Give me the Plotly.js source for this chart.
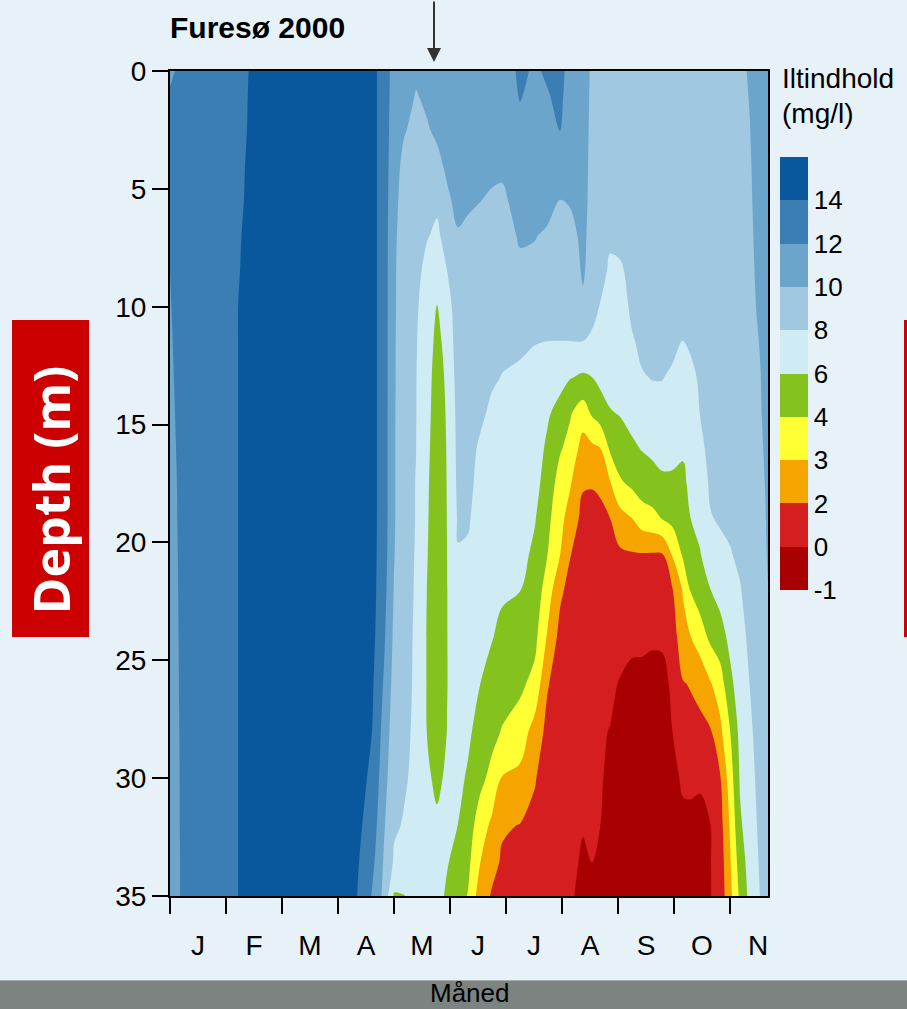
<!DOCTYPE html>
<html>
<head>
<meta charset="utf-8">
<script src="https://cdn.plot.ly/plotly-3.0.1.min.js"></script>
<style>
html,body{margin:0;padding:0;background:#e7f1f8;}
#chart{width:907px;height:1009px;}
</style>
</head>
<body>
<div id="chart"></div>
<script>
// ---------- data ----------
const monthLabels = ['J','F','M','A','M','J','J','A','S','O','N'];
const monthTicks = [0,1,2,3,4,5,6,7,8,9,10];
const depthTicks = [0,5,10,15,20,25,30,35];
const depths = [0,1,2.5,4,5.5,7,8.5,10,11.5,13,14.5,16,17.5,19,20.5,22,24,26,28,30,32,33.5,35];
// sampling times, in months since 1 January 2000
const sampleMonths = [0.000,0.536,1.250,1.786,3.214,3.607,3.821,4.000,4.179,4.393,4.589,4.768,4.946,5.143,5.321,5.536,5.750,5.929,6.250,6.518,6.732,6.964,7.143,7.375,7.536,7.679,7.857,8.036,8.250,8.429,8.607,8.786,8.964,9.161,9.286,9.464,9.643,9.821,10.000,10.179,10.357,10.536,10.679];
// oxygen profiles (mg/l), one per sampling time, values at the depths above
const oxygenProfiles = [
 [11.8,12.1,12.3,12.3,12.3,12.2,12.0,11.95,11.9,11.85,11.8,11.75,11.7,11.68,11.65,11.63,11.6,11.58,11.55,11.53,11.52,11.5,11.5],
 [13,13,13,13,13,13,13,13,13,13,13,13,13,13,13,13,13,13,13,13,13,13,13],
 [13.6,13.65,13.7,13.8,13.85,13.95,14.0,14.05,14.05,14.05,14.05,14.05,14.05,14.05,14.05,14.05,14.05,14.05,14.05,14.05,14.05,14.05,14.05],
 [15,15,15,15,15,15,15,15,15,15,15,15,15,15,15,15,15,15,15,15,15,15,15],
 [15,15,15,15,15,15,15,15,15,15,15,15,15,15,15,15,15,15,15,15,15,15,15],
 [14.7,14.7,14.7,14.7,14.7,14.7,14.7,14.7,14.7,14.7,14.7,14.7,14.7,14.7,14.7,14.7,14.6,14.3,14.0,13.7,13.2,12.6,11.9],
 [13,13,13,13,13,13,13,13,13,13,13,13,13,13,12.9,12.7,12.3,11.8,11.3,10.8,10.2,9.8,9.5],
 [11.3,11.2,11.0,10.8,10.6,10.4,10.3,10.3,10.25,10.25,10.2,10.2,10.2,10.2,10.1,9.9,9.6,9.3,8.9,8.5,8.2,7.8,5.8],
 [10.9,10.5,10.15,9.5,9.2,9.0,8.9,8.8,8.75,8.7,8.7,8.65,8.65,8.6,8.6,8.6,8.5,8.4,8.3,8.15,7.9,7.4,5.95],
 [10.2,9.95,9.5,9.2,9.0,8.8,8.5,8.2,8.1,8.05,8.05,8.02,7.95,7.95,7.9,7.85,7.8,7.8,7.75,7.7,7.5,7.0,6.4],
 [10.5,10.2,9.9,9.6,9.3,8.1,7.5,7.3,7.1,6.9,6.7,6.5,6.3,6.2,6.1,5.98,5.9,5.9,5.95,6.4,6.8,6.9,6.9],
 [10.8,10.5,10.2,9.7,8.3,7.7,6.9,5.95,5.4,5.0,4.9,4.8,4.8,4.8,4.8,4.8,4.8,4.85,4.9,5.5,6.4,6.8,6.9],
 [11.0,10.8,10.5,10.2,9.8,8.6,7.98,7.0,6.7,6.4,6.2,6.1,6.05,6.02,5.98,5.95,5.95,5.95,6.02,6.4,6.6,6.2,5.6],
 [11.0,10.9,10.7,10.5,10.3,9.9,9.6,9.3,9.0,8.8,8.6,8.5,8.4,8.2,7.9,7.6,7.3,7.0,6.7,6.4,5.98,5.2,4.7],
 [11.0,10.9,10.8,10.5,10.2,9.7,9.5,9.3,9.1,8.9,8.7,8.5,8.35,8.15,7.8,7.5,7.2,6.8,6.3,5.8,5.0,4.5,3.95],
 [11.1,11.0,10.8,10.5,10.02,9.7,9.5,9.2,9.0,8.7,8.3,7.8,7.6,7.4,7.2,7.0,6.6,6.02,5.4,4.55,3.5,3.05,2.5],
 [11.2,11.1,10.8,10.35,9.8,9.5,9.2,8.9,8.6,8.2,7.7,7.4,7.2,7.0,6.8,6.6,6.1,5.2,4.6,3.7,2.8,2.3,1.8],
 [11.1,11.1,10.9,10.3,9.7,9.4,9.1,8.7,8.35,7.95,7.6,7.35,7.15,6.95,6.7,6.3,5.5,4.8,3.95,2.95,2.1,1.8,1.6],
 [12.3,12.1,11.6,11.1,10.6,10.15,9.7,9.0,8.4,7.6,7.35,7.15,6.95,6.8,6.6,6.05,5.0,4.4,3.55,2.75,1.95,1.5,1.3],
 [11.8,11.6,11.3,11.0,10.7,10.05,9.7,8.9,8.05,7.5,7.2,6.9,6.6,6.1,5.6,5.1,4.5,3.7,2.6,2.05,1.6,1.4,1.2],
 [12.2,11.9,11.6,11.0,10.5,9.8,9.4,8.8,7.98,7.2,6.3,5.7,5.2,4.6,4.1,3.6,2.95,2.1,1.5,1.2,1.0,0.9,0.8],
 [12.5,12.35,12.02,11.4,9.95,9.5,9.0,8.5,7.98,6.7,5.3,4.2,3.6,3.3,3.03,2.2,1.4,1.0,0.8,0.6,0.5,0.4,0.35],
 [11.4,11.3,11.1,10.8,10.1,9.6,9.1,8.6,7.98,6.1,4.2,3.7,3.1,2.6,2.05,1.4,0.9,0.6,0.4,0.3,0.2,0.2,0.2],
 [10.6,10.55,10.5,10.45,10.4,10.3,10.2,9.7,7.95,5.7,3.5,2.6,2.1,1.4,1.0,0.7,0.5,0.3,0.2,0.1,0.05,-0.05,-0.2],
 [9.8,9.75,9.7,9.65,9.6,9.5,9.3,8.7,7.6,5.98,4.3,2.8,2.05,1.5,1.1,0.8,0.55,0.35,0.2,0.1,0.1,0.02,-0.1],
 [9.7,9.6,9.5,9.4,9.3,9.2,8.9,7.9,7.3,6.5,5.0,2.98,2.2,1.4,1.0,0.7,0.5,0.3,0.15,0.05,0.02,-0.1,-0.2],
 [9.6,9.55,9.5,9.4,9.2,8.4,7.6,7.3,7.0,6.6,5.9,4.3,2.9,1.95,1.4,1.0,0.6,0.3,-0.02,-0.05,-0.3,-0.4,-0.5],
 [9.6,9.55,9.5,9.4,9.2,8.6,7.7,7.3,7.1,6.8,6.1,5.2,3.85,2.6,1.7,1.2,0.6,-0.05,-0.4,-0.5,-0.55,-0.6,-0.6],
 [9.5,9.45,9.4,9.3,9.1,8.9,8.6,8.3,7.85,7.2,6.6,5.7,4.4,2.98,1.85,1.3,0.5,-0.3,-0.6,-0.7,-0.7,-0.7,-0.7],
 [9.5,9.45,9.4,9.3,9.2,9.0,8.8,8.6,8.3,7.9,7.2,6.1,5.0,3.5,1.9,1.4,0.6,-0.4,-0.7,-0.8,-0.8,-0.8,-0.8],
 [9.5,9.45,9.4,9.3,9.2,9.0,8.8,8.6,8.4,8.05,7.4,6.4,5.2,3.7,1.85,1.4,0.5,-0.6,-0.8,-0.85,-0.85,-0.85,-0.85],
 [9.5,9.45,9.4,9.3,9.2,9.0,8.8,8.6,8.4,8.05,7.5,6.7,5.6,4.02,1.9,1.4,0.5,-0.5,-0.6,-0.7,-0.7,-0.7,-0.7],
 [9.4,9.35,9.3,9.2,9.1,8.9,8.8,8.6,8.35,7.8,7.3,6.6,5.65,4.5,3.05,1.8,1.0,0.5,-0.02,-0.4,-0.5,-0.5,-0.5],
 [9.4,9.35,9.3,9.2,9.1,9.0,8.8,8.5,7.95,7.5,7.1,6.3,5.5,4.9,4.3,3.1,2.6,1.9,1.2,0.4,-0.3,-0.35,-0.4],
 [9.4,9.35,9.3,9.2,9.1,9.0,8.8,8.5,8.2,7.6,7.2,6.9,6.5,5.95,5.2,4.05,2.95,2.05,1.4,0.5,-0.3,-0.35,-0.4],
 [9.4,9.35,9.3,9.2,9.1,9.0,8.8,8.6,8.4,8.2,8.03,7.6,7.1,6.5,5.9,5.1,3.5,2.3,1.5,0.4,-0.4,-0.45,-0.5],
 [9.5,9.45,9.4,9.3,9.2,9.1,9.0,8.9,8.8,8.7,8.6,8.45,8.2,7.9,7.0,5.95,4.4,2.9,1.8,0.9,-0.03,-0.05,-0.05],
 [9.6,9.55,9.5,9.45,9.4,9.3,9.2,9.1,9.0,8.9,8.8,8.6,8.4,8.15,7.6,6.7,5.2,3.5,2.75,1.8,1.2,0.9,0.8],
 [9.7,9.65,9.6,9.55,9.5,9.4,9.3,9.2,9.1,9.0,8.9,8.7,8.5,8.3,7.9,7.2,6.5,5.5,3.98,3.5,3.1,2.9,2.7],
 [9.8,9.75,9.7,9.65,9.6,9.55,9.5,9.4,9.3,9.2,9.1,8.95,8.8,8.6,8.3,7.9,7.4,7.0,6.6,6.2,5.7,5.0,4.4],
 [10.1,10.05,9.98,9.9,9.85,9.8,9.75,9.7,9.6,9.5,9.4,9.3,9.2,9.05,8.9,8.7,8.4,8.05,7.7,7.4,7.1,6.9,6.6],
 [10.8,10.75,10.7,10.6,10.5,10.4,10.3,10.2,10.05,9.95,9.9,9.8,9.7,9.6,9.5,9.4,9.2,9.0,8.8,8.6,8.4,8.2,8.02],
 [11.0,10.95,10.9,10.85,10.8,10.7,10.65,10.6,10.5,10.45,10.4,10.3,10.2,10.15,10.1,9.98,9.8,9.6,9.4,9.3,9.2,9.1,9.0]
];
// class limits of the legend (mg/l) and their colours (low -> high)
const levelValues = [-1,0,2,3,4,6,8,10,12,14,16];
const binColors = ['#a80000','#d41e20','#f5a400','#ffff33','#84c31e','#cfecf4','#a0c8e0','#6ca5cb','#3a7eb4','#09589d'];

// ---------- helpers ----------
const FONT = 'Liberation Sans, Arial, Helvetica, sans-serif';
// map mg/l onto the equal-width class index used by the legend
function classIndex(v){
  const L = levelValues;
  if (v <= L[0]) return v - L[0];
  for (let i = 0; i < L.length - 1; i++) {
    if (v <= L[i+1]) return i + (v - L[i]) / (L[i+1] - L[i]);
  }
  return L.length - 1 + (v - L[L.length-1]) / 2;
}
const zIndex = oxygenProfiles.map(p => p.map(classIndex));

// layout pixel helpers (plot area 170..768 x 71..896)
const PL = 170, PT = 71, PW = 598, PH = 825;
const px = p => (p - PL) / PW;
const py = p => (PT + PH - p) / PH;

const nb = binColors.length;
const contourScale = binColors.map((c, i) => [i / (nb - 1), c]);
const legendScale = [];
binColors.forEach((c, i) => { legendScale.push([i / nb, c]); legendScale.push([(i + 1) / nb, c]); });

const contour = {
  type: 'contour',
  x: sampleMonths,
  y: depths,
  z: zIndex,
  transpose: true,
  autocontour: false,
  contours: { start: 1, end: nb - 1, size: 1, coloring: 'fill', showlines: false },
  line: { width: 0 },
  colorscale: contourScale,
  showscale: false,
  hoverinfo: 'skip'
};

// legend bar (drawn from the same classes)
const legend = {
  type: 'heatmap',
  x: [-100], y: [-100], z: [[0]],
  xaxis: 'x2', yaxis: 'y',
  zmin: 0, zmax: nb,
  colorscale: legendScale,
  hoverinfo: 'skip',
  colorbar: {
    x: px(780), xref: 'paper', xanchor: 'left', xpad: 0,
    y: py(373.5), yanchor: 'middle', ypad: 0,
    len: 433, lenmode: 'pixels',
    thickness: 28, thicknessmode: 'pixels',
    outlinewidth: 0,
    tickvals: levelValues.slice(0, nb).map((v, i) => i),
    ticktext: levelValues.slice(0, nb).map(String),
    ticks: '',
    tickfont: { family: FONT, size: 26, color: '#000' }
  }
};

const layout = {
  width: 907, height: 1009,
  margin: { l: PL, r: 907 - PL - PW, t: PT, b: 1009 - PT - PH, pad: 0 },
  paper_bgcolor: '#e7f1f8',
  plot_bgcolor: '#e7f1f8',
  font: { family: FONT, size: 28, color: '#000' },
  showlegend: false,
  title: {
    text: '<b>Furesø 2000</b>',
    font: { family: FONT, size: 30, color: '#000' },
    xref: 'paper', x: 0, xanchor: 'left',
    yref: 'container', y: 1 - 27 / 1009, yanchor: 'middle'
  },
  xaxis: {
    range: [0, (768 - PL) / 56],
    tickvals: monthTicks, showticklabels: false,
    ticks: 'outside', ticklen: 16, tickwidth: 2, tickcolor: '#000',
    showline: true, linecolor: '#000', linewidth: 2, mirror: true,
    showgrid: false, zeroline: false
  },
  xaxis2: {
    overlaying: 'x', anchor: 'y', side: 'bottom',
    range: [0, (768 - PL) / 56],
    tickvals: monthTicks.map(m => m + 0.5), ticktext: monthLabels,
    ticks: '', showline: false, showgrid: false, zeroline: false,
    ticklabelstandoff: 30,
    tickfont: { family: FONT, size: 28, color: '#000' }
  },
  yaxis: {
    range: [35, 0],
    tickvals: depthTicks,
    ticks: 'outside', ticklen: 16, tickwidth: 2, tickcolor: '#000',
    showline: true, linecolor: '#000', linewidth: 2, mirror: true,
    showgrid: false, zeroline: false,
    tickfont: { family: FONT, size: 28, color: '#000' }
  },
  shapes: [
    { type: 'rect', xref: 'paper', yref: 'paper', x0: px(12), x1: px(89), y0: py(637), y1: py(320), fillcolor: '#cc0000', line: { width: 0 }, layer: 'above' },
    { type: 'rect', xref: 'paper', yref: 'paper', x0: px(904), x1: px(930), y0: py(637), y1: py(320), fillcolor: '#cc0000', line: { width: 0 }, layer: 'above' },
    { type: 'rect', xref: 'paper', yref: 'paper', x0: px(-10), x1: px(920), y0: py(1020), y1: py(980), fillcolor: '#7d8380', line: { width: 0 }, layer: 'above' },
    { type: 'line', xref: 'paper', yref: 'paper', x0: px(-10), x1: px(920), y0: py(980.5), y1: py(980.5), line: { width: 1, color: '#a8adab' }, layer: 'above' }
  ],
  annotations: [
    { xref: 'paper', yref: 'paper', x: px(50.5), y: py(490), text: '<b>Depth (m)</b>', textangle: -90,
      showarrow: false, font: { family: 'Open Sans, DejaVu Sans, sans-serif', size: 50, color: '#ffffff' }, xanchor: 'center', yanchor: 'middle' },
    { xref: 'paper', yref: 'paper', x: px(780), y: py(78), text: 'Iltindhold', showarrow: false,
      xanchor: 'left', yanchor: 'middle', font: { family: FONT, size: 28, color: '#000' } },
    { xref: 'paper', yref: 'paper', x: px(780), y: py(113), text: '(mg/l)', showarrow: false,
      xanchor: 'left', yanchor: 'middle', font: { family: FONT, size: 28, color: '#000' } },
    { xref: 'paper', yref: 'paper', x: px(470), y: py(993), text: 'Måned', showarrow: false,
      xanchor: 'center', yanchor: 'middle', font: { family: FONT, size: 26, color: '#000' } },
    { xref: 'paper', yref: 'paper', x: px(434), y: py(62), text: '', showarrow: true,
      ax: 0, ay: -64, arrowhead: 2, arrowsize: 1.4, arrowwidth: 2, arrowcolor: '#333333' }
  ]
};

Plotly.newPlot('chart', [contour, legend], layout, { staticPlot: true, displayModeBar: false });
</script>
</body>
</html>
